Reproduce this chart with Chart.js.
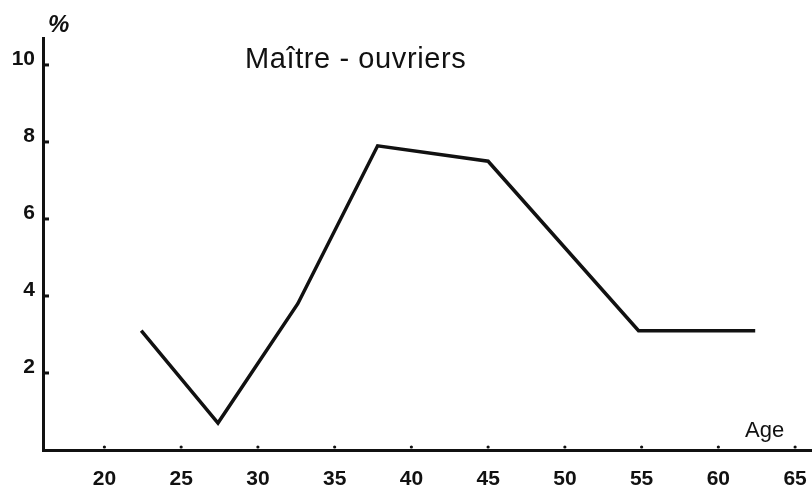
<!DOCTYPE html>
<html>
<head>
<meta charset="utf-8">
<script src="https://cdn.jsdelivr.net/npm/chart.js@4.4.1/dist/chart.umd.min.js"></script>
<style>
    html, body { margin: 0; padding: 0; background: #fff; }
    #wrap { width: 812px; height: 494px; }
</style>
</head>
<body>
<div id="wrap"><canvas id="ageChart"></canvas></div>
<script>
// Maître-ouvriers, share (%) by age
const ages = [22.4, 27.4, 32.6, 37.8, 45, 54.8, 62.4];
const shares = [3.1, 0.7, 3.8, 7.9, 7.5, 3.1, 3.1];
const xTicks = [20, 25, 30, 35, 40, 45, 50, 55, 60, 65];
const yTicks = [2, 4, 6, 8, 10];

const ink = '#111';
const labelFont = { family: 'Liberation Sans', size: 21, weight: 'bold' };

// small tick marks and free text on the chart
const decorations = {
    id: 'decorations',
    afterDraw(chart) {
        const ctx = chart.ctx;
        const xs = chart.scales.x;
        const ys = chart.scales.y;
        ctx.save();
        ctx.strokeStyle = ink;
        ctx.fillStyle = ink;
        ctx.lineWidth = 3;
        yTicks.forEach(v => {
            const py = ys.getPixelForValue(v);
            ctx.beginPath();
            ctx.moveTo(xs.left, py);
            ctx.lineTo(xs.left + 6, py);
            ctx.stroke();
        });
        xTicks.forEach(v => {
            const px = xs.getPixelForValue(v);
            ctx.beginPath();
            ctx.arc(px, ys.bottom - 3, 1.6, 0, Math.PI * 2);
            ctx.fill();
        });

        ctx.textBaseline = 'alphabetic';
        ctx.textAlign = 'left';
        ctx.letterSpacing = '0.6px';
        ctx.font = '29px "Liberation Sans"';
        ctx.fillText('Maître - ouvriers', 245, 68);
        ctx.letterSpacing = '0px';

        ctx.font = '22px "Liberation Sans"';
        ctx.fillText('Age', 745, 437);

        ctx.font = 'bold italic 24px "Liberation Sans"';
        ctx.fillText('%', 48, 32);
        ctx.restore();
    }
};

function fixX(scale) {
    scale.height = 44;
    scale.paddingLeft = 0;
    scale.paddingRight = 0;
}

function fixY(scale) {
    scale.width = 43;
    scale.paddingTop = 0;
    scale.paddingBottom = 0;
}

new Chart(document.getElementById('ageChart'), {
    type: 'line',
    data: {
        datasets: [{
            data: ages.map((a, i) => ({ x: a, y: shares[i] })),
            borderColor: ink,
            borderWidth: 3.5,
            pointRadius: 0,
            tension: 0,
            fill: false,
            borderJoinStyle: 'miter'
        }]
    },
    options: {
        responsive: true,
        maintainAspectRatio: false,
        animation: false,
        layout: { padding: { top: 38, left: 0, right: 0, bottom: 0 } },
        plugins: {
            legend: { display: false },
            tooltip: { enabled: false }
        },
        scales: {
            x: {
                type: 'linear',
                min: 16,
                max: 66.1,
                afterBuildTicks: scale => { scale.ticks = xTicks.map(v => ({ value: v })); },
                afterFit: fixX,
                grid: { display: false, drawTicks: false },
                border: { display: true, color: ink, width: 3 },
                ticks: { color: ink, font: labelFont, padding: 17, maxRotation: 0, autoSkip: false }
            },
            y: {
                min: 0,
                max: 10.7,
                afterBuildTicks: scale => { scale.ticks = yTicks.map(v => ({ value: v })); },
                afterFit: fixY,
                grid: { display: false, drawTicks: false },
                border: { display: true, color: ink, width: 3 },
                ticks: { color: ink, font: labelFont, padding: 8, labelOffset: -6 }
            }
        }
    },
    plugins: [decorations]
});
</script>
</body>
</html>
